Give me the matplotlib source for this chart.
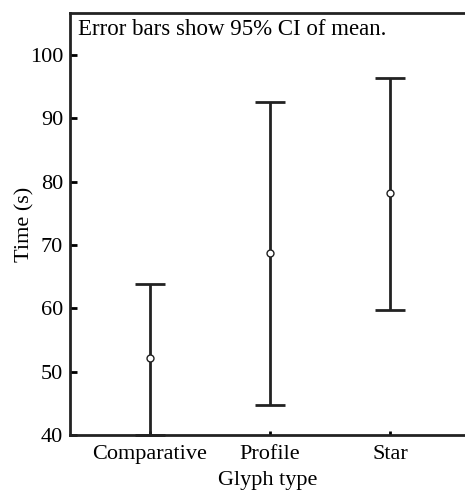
import matplotlib.pyplot as plt

categories = ["Comparative", "Profile", "Star"]
means = [52.1, 68.7, 78.2]
upper = [63.9, 92.5, 96.4]
lower = [40.0, 44.8, 59.8]

plt.rcParams["font.family"] = "Liberation Serif"
plt.rcParams["font.size"] = 16

fig = plt.figure(figsize=(4.65, 4.91), dpi=100)
ax = fig.add_axes([0.1505, 0.114, 0.8495, 0.8595])

x = list(range(len(categories)))
err = [[m - lo for m, lo in zip(means, lower)], [u - m for m, u in zip(means, upper)]]
ax.errorbar(x, means, yerr=err, fmt="none", ecolor="#222222", elinewidth=2,
            capsize=11, capthick=2, clip_on=False)
ax.plot(x, means, "o", mfc="white", mec="#222222", mew=1.0, ms=5, zorder=5)

ax.set_xlim(-0.667, 2.625)
ax.set_ylim(40, 106.6)
ax.set_yticks([40, 50, 60, 70, 80, 90, 100])
ax.set_xticks(x)
ax.set_xticklabels(categories)
ax.tick_params(direction="in", length=5, width=2, pad=5, labelsize=16)
ax.tick_params(axis="x", length=3, pad=7)
for s in ["left", "top", "bottom"]:
    ax.spines[s].set_linewidth(2)
    ax.spines[s].set_color("#222222")
ax.spines["right"].set_visible(False)

ax.set_xlabel("Glyph type", fontsize=16, labelpad=5)
ax.set_ylabel("Time (s)", fontsize=16)
ax.yaxis.set_label_coords(-0.09, 0.5)
ax.text(0.02, 0.985, "Error bars show 95% CI of mean.", transform=ax.transAxes,
        ha="left", va="top", fontsize=16.5)

fig.savefig("out.png", dpi=100)
